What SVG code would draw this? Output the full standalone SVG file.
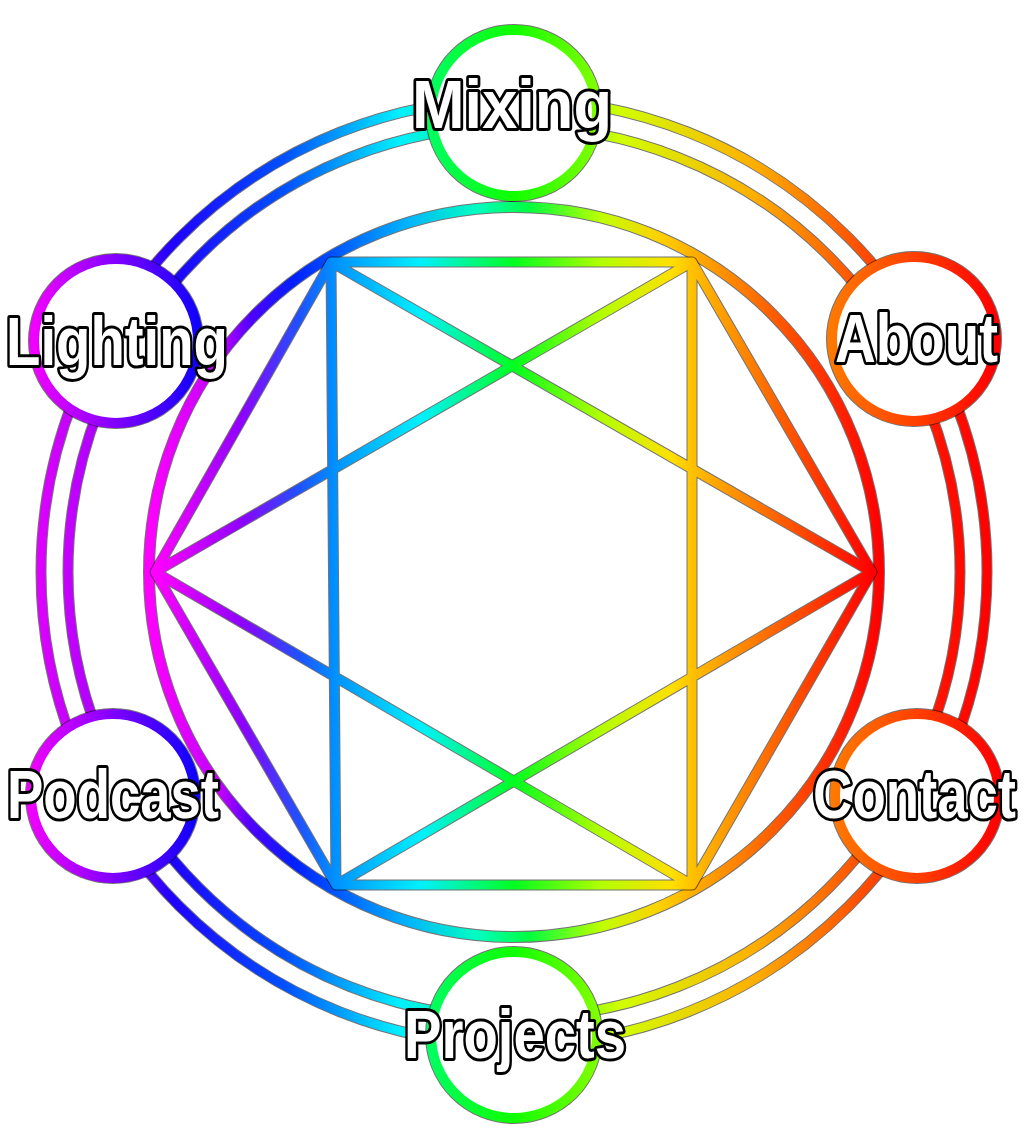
<svg xmlns="http://www.w3.org/2000/svg" width="1028" height="1148" viewBox="0 0 1028 1148">
<style>
.under{fill:none;stroke:#000;stroke-opacity:0.55}
.ring{fill:none;stroke-width:9}
.lbl{font-family:"Liberation Sans",Arial,sans-serif;font-weight:bold;font-size:68px;fill:#fff;stroke:#000;stroke-width:6;stroke-linejoin:round;paint-order:stroke fill}
.node-circle{fill:#fff;stroke-width:10}
</style>
<defs>
<linearGradient id="gOuter" gradientUnits="userSpaceOnUse" x1="36" y1="0" x2="992" y2="0">
<stop offset="0" stop-color="#e000ff"/>
<stop offset="0.08" stop-color="#a000ff"/>
<stop offset="0.14" stop-color="#2000ff"/>
<stop offset="0.26" stop-color="#0050ff"/>
<stop offset="0.38" stop-color="#00f0ff"/>
<stop offset="0.5" stop-color="#00ff40"/>
<stop offset="0.61" stop-color="#d0ff00"/>
<stop offset="0.75" stop-color="#ffb000"/>
<stop offset="0.86" stop-color="#ff5000"/>
<stop offset="0.95" stop-color="#ff1000"/>
<stop offset="1" stop-color="#ff0000"/>
</linearGradient>
<linearGradient id="gInner" gradientUnits="userSpaceOnUse" x1="148" y1="0" x2="880" y2="0">
<stop offset="0" stop-color="#ff00ff"/>
<stop offset="0.1" stop-color="#c000ff"/>
<stop offset="0.14" stop-color="#5000ff"/>
<stop offset="0.2" stop-color="#0020ff"/>
<stop offset="0.35" stop-color="#00b0ff"/>
<stop offset="0.45" stop-color="#00ffc0"/>
<stop offset="0.52" stop-color="#00ff40"/>
<stop offset="0.62" stop-color="#c0ff00"/>
<stop offset="0.7" stop-color="#ffd000"/>
<stop offset="0.85" stop-color="#ff6000"/>
<stop offset="1" stop-color="#ff0000"/>
</linearGradient>
<linearGradient id="gStar" gradientUnits="userSpaceOnUse" x1="155" y1="0" x2="872" y2="0">
<stop offset="0" stop-color="#ff00ff"/>
<stop offset="0.12" stop-color="#9000ff"/>
<stop offset="0.2" stop-color="#2050ff"/>
<stop offset="0.25" stop-color="#0090ff"/>
<stop offset="0.37" stop-color="#00f0ff"/>
<stop offset="0.5" stop-color="#00ff20"/>
<stop offset="0.62" stop-color="#b0ff00"/>
<stop offset="0.72" stop-color="#ffe000"/>
<stop offset="0.75" stop-color="#ffc000"/>
<stop offset="0.87" stop-color="#ff6000"/>
<stop offset="1" stop-color="#ff0000"/>
</linearGradient>
<linearGradient id="gViolet" x1="0" y1="0" x2="1" y2="0">
<stop offset="0" stop-color="#f000ff"/>
<stop offset="0.5" stop-color="#8000ff"/>
<stop offset="1" stop-color="#1000ff"/>
</linearGradient>
<linearGradient id="gGreen" x1="0" y1="0" x2="1" y2="0">
<stop offset="0" stop-color="#00ff60"/>
<stop offset="0.5" stop-color="#10ff00"/>
<stop offset="1" stop-color="#80ff00"/>
</linearGradient>
<linearGradient id="gRed" x1="0" y1="0" x2="1" y2="0">
<stop offset="0" stop-color="#ff7800"/>
<stop offset="0.5" stop-color="#ff4000"/>
<stop offset="1" stop-color="#ff0000"/>
</linearGradient>
</defs>
<rect width="1028" height="1148" fill="#fff"/>

<g id="connectors">
<circle class="under" cx="514" cy="572" r="473" stroke-width="11"/>
<circle class="under" cx="514" cy="572" r="446" stroke-width="11"/>
<circle class="ring" cx="514" cy="572" r="473" stroke="url(#gOuter)"/>
<circle class="ring" cx="514" cy="572" r="446" stroke="url(#gOuter)"/>
<circle class="under" cx="514" cy="572" r="365" stroke-width="12"/>
<circle cx="514" cy="572" r="365" fill="none" stroke="url(#gInner)" stroke-width="10"/>
<path class="under" stroke-width="11" stroke-linecap="round" d="M331 262L692 262M692 262L872 572M872 572L692 885M692 885L336 885M336 885L155 572M155 572L331 262M331 262L872 572M872 572L336 885M336 885L331 262M692 262L155 572M155 572L692 885M692 885L692 262"/>
<path fill="none" stroke="url(#gStar)" stroke-width="9" stroke-linecap="round" d="M331 262L692 262M692 262L872 572M872 572L692 885M692 885L336 885M336 885L155 572M155 572L331 262M331 262L872 572M872 572L336 885M336 885L331 262M692 262L155 572M155 572L692 885M692 885L692 262"/>
</g>

<g id="node-mixing">
<circle cx="514" cy="113" r="83" fill="#fff" stroke="#000" stroke-opacity="0.55" stroke-width="12"/>
<circle class="node-circle" cx="514" cy="113" r="83" stroke="url(#gGreen)"/>
<text class="lbl" x="412" y="128" textLength="200" lengthAdjust="spacingAndGlyphs">Mixing</text>
</g>
<g id="node-about">
<circle cx="914" cy="339" r="82" fill="#fff" stroke="#000" stroke-opacity="0.55" stroke-width="12"/>
<circle class="node-circle" cx="914" cy="339" r="82" stroke="url(#gRed)"/>
<text class="lbl" x="835" y="362" textLength="163" lengthAdjust="spacingAndGlyphs">About</text>
</g>
<g id="node-lighting">
<circle cx="116" cy="341" r="82" fill="#fff" stroke="#000" stroke-opacity="0.55" stroke-width="12"/>
<circle class="node-circle" cx="116" cy="341" r="82" stroke="url(#gViolet)"/>
<text class="lbl" x="6" y="365" textLength="222" lengthAdjust="spacingAndGlyphs">Lighting</text>
</g>
<g id="node-podcast">
<circle cx="113" cy="796" r="82" fill="#fff" stroke="#000" stroke-opacity="0.55" stroke-width="12"/>
<circle class="node-circle" cx="113" cy="796" r="82" stroke="url(#gViolet)"/>
<text class="lbl" x="7" y="818" textLength="212" lengthAdjust="spacingAndGlyphs">Podcast</text>
</g>
<g id="node-contact">
<circle cx="917" cy="796" r="82" fill="#fff" stroke="#000" stroke-opacity="0.55" stroke-width="12"/>
<circle class="node-circle" cx="917" cy="796" r="82" stroke="url(#gRed)"/>
<text class="lbl" x="813" y="818" textLength="203" lengthAdjust="spacingAndGlyphs">Contact</text>
</g>
<g id="node-projects">
<circle cx="514" cy="1035" r="83" fill="#fff" stroke="#000" stroke-opacity="0.55" stroke-width="12"/>
<circle class="node-circle" cx="514" cy="1035" r="83" stroke="url(#gGreen)"/>
<text class="lbl" x="404" y="1058" textLength="222" lengthAdjust="spacingAndGlyphs">Projects</text>
</g>
</svg>
